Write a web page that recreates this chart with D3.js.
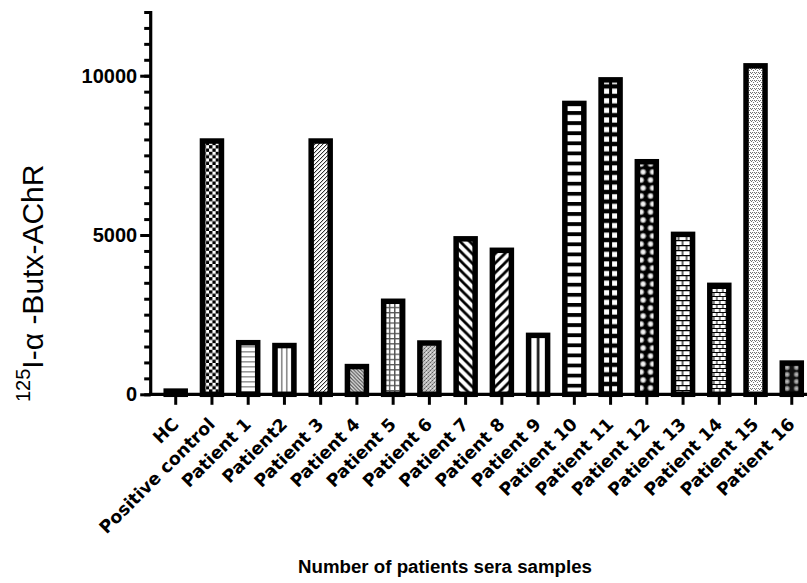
<!DOCTYPE html>
<html>
<head>
<meta charset="utf-8">
<script src="https://cdn.jsdelivr.net/npm/d3@7/dist/d3.min.js"></script>
<style>
  html, body { margin: 0; padding: 0; background: #fff; }
  svg { display: block; }
</style>
</head>
<body>
<svg id="chart" width="807" height="583"></svg>
<script>
// ---- data ----
const categories = [
  "HC", "Positive control", "Patient 1", "Patient2", "Patient 3", "Patient 4",
  "Patient 5", "Patient 6", "Patient 7", "Patient 8", "Patient 9", "Patient 10",
  "Patient 11", "Patient 12", "Patient 13", "Patient 14", "Patient 15", "Patient 16"
];
const values = [
  100, 7950, 1620, 1530, 7950, 870,
  2920, 1610, 4880, 4520, 1850, 9130,
  9870, 7300, 5020, 3420, 10310, 980
];
const majorTicks = [0, 5000, 10000];
const yMax = 12000;
const minorStep = 500;
const xTitle = "Number of patients sera samples";
const yTitleSup = "125";
const yTitleMain = "I-\u03b1 -Butx-AChR";

// ---- layout ----
const svg = d3.select("#chart");
const y = d3.scaleLinear().domain([0, yMax]).range([394.3, 12]);
const x = d3.scaleBand().domain(categories)
  .range([157.6, 809.9]).paddingInner(0.4757).paddingOuter(0.2379);
const axisX = 150.7;
const bw = x.bandwidth();
const defs = svg.append("defs");

// fill textures, one per bar, anchored to the bar's own corner
function pattern(id, cat, w, h, draw) {
  const p = defs.append("pattern").attr("id", id)
    .attr("patternUnits", "userSpaceOnUse")
    .attr("x", x(cat)).attr("y", 0)
    .attr("width", w).attr("height", h);
  draw(p, w, h);
}
const bg = (p, w, h, c) => p.append("rect").attr("width", w).attr("height", h).attr("fill", c);

const textures = {
  "HC": (id, c) => pattern(id, c, 4, 4, (p, w, h) => bg(p, w, h, "#000")),
  "Positive control": (id, c) => pattern(id, c, 6.6, 6.6, (p, w, h) => {
    bg(p, w, h, "#fff");
    p.append("rect").attr("width", 3.3).attr("height", 3.3).attr("fill", "#000");
    p.append("rect").attr("x", 3.3).attr("y", 3.3).attr("width", 3.3).attr("height", 3.3).attr("fill", "#000");
  }),
  "Patient 1": (id, c) => pattern(id, c, 4, 5, (p, w, h) => {
    bg(p, w, h, "#fff");
    p.append("rect").attr("y", 1).attr("width", w).attr("height", 1.6).attr("fill", "#9a9a9a");
  }),
  "Patient2": (id, c) => pattern(id, c, 5, 4, (p, w, h) => {
    bg(p, w, h, "#fff");
    p.append("rect").attr("x", 1).attr("width", 1.6).attr("height", h).attr("fill", "#8a8a8a");
  }),
  "Patient 3": (id, c) => pattern(id, c, 4, 4, (p, w, h) => {
    bg(p, w, h, "#fff");
    p.append("path").attr("d", "M-1,5 L5,-1 M-1,1 L1,-1 M3,5 L5,3").attr("stroke", "#000").attr("stroke-width", 1);
  }),
  "Patient 4": (id, c) => pattern(id, c, 3.6, 3.6, (p, w, h) => {
    bg(p, w, h, "#e6e6e6");
    p.append("path").attr("d", "M-1,-1 L4.6,4.6 M-1,2.6 L1,4.6 M2.6,-1 L4.6,1").attr("stroke", "#555").attr("stroke-width", 1.2);
  }),
  "Patient 5": (id, c) => pattern(id, c, 5.2, 5.2, (p, w, h) => {
    bg(p, w, h, "#fff");
    p.append("path").attr("d", "M0,0.7 H5.2 M0.7,0 V5.2").attr("stroke", "#555").attr("stroke-width", 1.4);
  }),
  "Patient 6": (id, c) => pattern(id, c, 4, 4, (p, w, h) => {
    bg(p, w, h, "#c4c4c4");
    [[0, 0], [2, 2], [1, 3], [3, 1]].forEach(([a, b], i) =>
      p.append("rect").attr("x", a).attr("y", b).attr("width", 1).attr("height", 1).attr("fill", i < 2 ? "#555" : "#888"));
    p.append("rect").attr("x", 2).attr("y", 0).attr("width", 1).attr("height", 1).attr("fill", "#eee");
  }),
  "Patient 7": (id, c) => pattern(id, c, 9.5, 9.5, (p, w, h) => {
    bg(p, w, h, "#fff");
    p.append("path").attr("d", `M-2,-2 L${w + 2},${h + 2} M-2,${h - 2} L2,${h + 2} M${w - 2},-2 L${w + 2},2`)
      .attr("stroke", "#000").attr("stroke-width", 2.8);
  }),
  "Patient 8": (id, c) => pattern(id, c, 9.5, 9.5, (p, w, h) => {
    bg(p, w, h, "#fff");
    p.append("path").attr("d", `M-2,${h + 2} L${w + 2},-2 M-2,2 L2,-2 M${w - 2},${h + 2} L${w + 2},${h - 2}`)
      .attr("stroke", "#000").attr("stroke-width", 2.8);
  }),
  "Patient 9": (id, c) => pattern(id, c, bw, 4, (p, w, h) => {
    bg(p, w, h, "#fff");
    p.append("rect").attr("x", w / 2 - 1.2).attr("width", 2.4).attr("height", h).attr("fill", "#000");
  }),
  "Patient 10": (id, c) => pattern(id, c, 4, 10.1, (p, w, h) => {
    bg(p, w, h, "#fff");
    p.append("rect").attr("width", w).attr("height", 3.8).attr("fill", "#000");
  }),
  "Patient 11": (id, c) => pattern(id, c, bw, 9.6, (p, w, h) => {
    bg(p, w, h, "#000");
    p.append("rect").attr("x", 2.9).attr("y", 2.2).attr("width", w / 2 - 4.4).attr("height", 5.2).attr("fill", "#fff");
    p.append("rect").attr("x", w / 2 + 1.5).attr("y", 2.2).attr("width", w / 2 - 4.4).attr("height", 5.2).attr("fill", "#fff");
  }),
  "Patient 12": (id, c) => pattern(id, c, bw / 2, 16, (p, w, h) => {
    bg(p, w, h, "#000");
    [[w / 2 - 1, 4], [w / 2 + 1, 12]].forEach(([a, b]) =>
      p.append("circle").attr("cx", a).attr("cy", b).attr("r", 3.8).attr("fill", "url(#glowWhite)"));
  }),
  "Patient 13": (id, c) => pattern(id, c, 8, 10, (p, w, h) => {
    bg(p, w, h, "#fff");
    p.append("path").attr("d", "M0,0.6 H8 M0,5.6 H8 M1,0 V5 M5,5 V10").attr("stroke", "#000").attr("stroke-width", 1.2);
  }),
  "Patient 14": (id, c) => pattern(id, c, 6, 8, (p, w, h) => {
    bg(p, w, h, "#fff");
    p.append("path").attr("d", "M0,0.5 H6 M0,4.5 H6 M1,0 V4 M4,4 V8").attr("stroke", "#000").attr("stroke-width", 1);
  }),
  "Patient 15": (id, c) => pattern(id, c, 4, 4, (p, w, h) => {
    bg(p, w, h, "#fff");
    [[0, 0], [2, 0], [1, 1], [3, 2]].forEach(([a, b]) =>
      p.append("rect").attr("x", a).attr("y", b).attr("width", 1).attr("height", 1).attr("fill", "#6a6a6a"));
  }),
  "Patient 16": (id, c) => pattern(id, c, bw / 2, 7, (p, w, h) => {
    bg(p, w, h, "#111");
    p.append("circle").attr("cx", w / 2).attr("cy", h / 2).attr("r", 3.4).attr("fill", "url(#glowGrey)");
  })
};

// soft dot gradients
const g1 = defs.append("radialGradient").attr("id", "glowWhite");
g1.append("stop").attr("offset", "0%").attr("stop-color", "#fff");
g1.append("stop").attr("offset", "45%").attr("stop-color", "#e0e0e0");
g1.append("stop").attr("offset", "100%").attr("stop-color", "#000");
const g2 = defs.append("radialGradient").attr("id", "glowGrey");
g2.append("stop").attr("offset", "0%").attr("stop-color", "#ccc");
g2.append("stop").attr("offset", "55%").attr("stop-color", "#888");
g2.append("stop").attr("offset", "100%").attr("stop-color", "#111");

categories.forEach((c, i) => textures[c]("fill" + i, c));

// ---- bars ----
svg.append("g").selectAll("rect")
  .data(categories.map((c, i) => ({ c, v: values[i], i })))
  .join("rect")
  .attr("x", d => x(d.c))
  .attr("y", d => y(d.v))
  .attr("width", bw)
  .attr("height", d => y(0) - y(d.v))
  .attr("fill", d => `url(#fill${d.i})`)
  .attr("stroke", "#000")
  .attr("stroke-width", 5.5);

// ---- y axis ----
const gyMinor = svg.append("g").attr("transform", `translate(${axisX},0)`)
  .call(d3.axisLeft(y).tickValues(d3.range(0, yMax + 1, minorStep)).tickSize(6.5).tickSizeOuter(0).tickFormat(""));
gyMinor.select(".domain").remove();
gyMinor.selectAll("line").attr("stroke", "#000").attr("stroke-width", 3);

const gy = svg.append("g").attr("transform", `translate(${axisX},0)`)
  .call(d3.axisLeft(y).tickValues(majorTicks).tickSize(10.5).tickSizeOuter(0).tickPadding(3).tickFormat(d3.format("d")));
gy.select(".domain").remove();
gy.selectAll("line").attr("stroke", "#000").attr("stroke-width", 3);
gy.selectAll("text")
  .attr("fill", "#000")
  .style("font-family", "'Liberation Sans', Arial, sans-serif")
  .style("font-weight", "bold")
  .style("font-size", "20px");

svg.append("line")
  .attr("x1", axisX).attr("x2", axisX)
  .attr("y1", y(yMax) - 1).attr("y2", y(0) + 1.5)
  .attr("stroke", "#000").attr("stroke-width", 3.2);

// ---- x axis ----
const gx = svg.append("g").attr("transform", `translate(0,${y(0)})`)
  .call(d3.axisBottom(x).tickSize(10.5).tickSizeOuter(0));
gx.select(".domain").remove();
gx.selectAll("line").attr("stroke", "#000").attr("stroke-width", 3);
gx.selectAll("text")
  .attr("y", null).attr("dy", null)
  .attr("fill", "#000")
  .attr("text-anchor", "end")
  .attr("transform", "translate(4,31) rotate(-45)")
  .style("font-family", "'DejaVu Sans', sans-serif")
  .style("font-weight", "bold")
  .style("font-size", "17.5px");

svg.append("line")
  .attr("x1", axisX - 1.6).attr("x2", 807)
  .attr("y1", y(0)).attr("y2", y(0))
  .attr("stroke", "#000").attr("stroke-width", 3.2);

// ---- titles ----
svg.append("text")
  .attr("x", 445).attr("y", 573)
  .attr("text-anchor", "middle")
  .style("font-family", "'Liberation Sans', Arial, sans-serif")
  .style("font-weight", "bold")
  .style("font-size", "18.7px")
  .text(xTitle);

const yt = svg.append("text")
  .attr("transform", "translate(43,402) rotate(-90)")
  .style("font-family", "'Liberation Sans', Arial, sans-serif");
yt.append("tspan").attr("dy", -13).style("font-size", "20px").text(yTitleSup);
yt.append("tspan").attr("dy", 13).style("font-size", "30px").text(yTitleMain);
</script>
</body>
</html>
